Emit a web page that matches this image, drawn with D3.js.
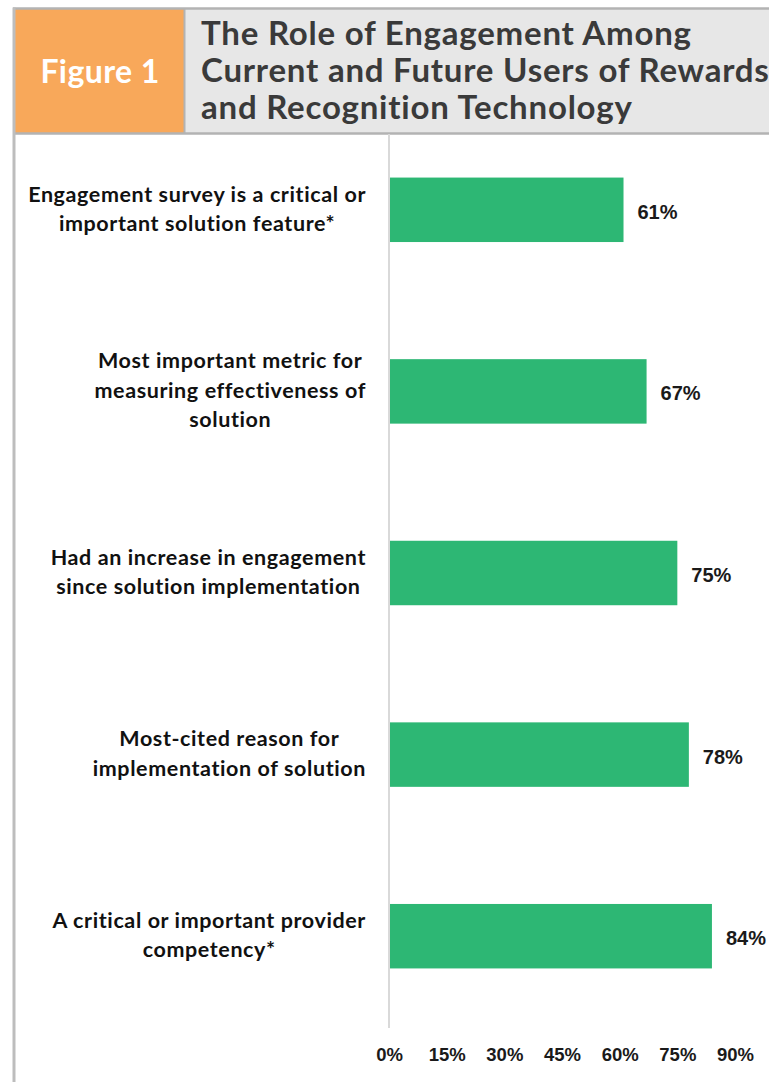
<!DOCTYPE html>
<html>
<head>
<meta charset="utf-8">
<script src="https://cdn.jsdelivr.net/npm/d3@7"></script>
<style>
  html, body { margin: 0; padding: 0; background: #ffffff; }
  svg { display: block; }
</style>
</head>
<body>
<div id="chart"></div>
<script>
// Share of respondents for each engagement-related finding
const categories = [
  "Engagement survey is a critical or\nimportant solution feature*",
  "Most important metric for\nmeasuring effectiveness of\nsolution",
  "Had an increase in engagement\nsince solution implementation",
  "Most-cited reason for\nimplementation of solution",
  "A critical or important provider\ncompetency*"
];
const values = [61, 67, 75, 78, 84];
const tickValues = [0, 15, 30, 45, 60, 75, 90];
const figureLabel = "Figure 1";
const titleLines = [
  "The Role of Engagement Among",
  "Current and Future Users of Rewards",
  "and Recognition Technology"
];

const W = 769, H = 1082;
const svg = d3.select("#chart").append("svg")
  .attr("width", W).attr("height", H);

// ---- header panel ----
const hdr = { x0: 14, y0: 9, y1: 133, split: 184 };
svg.append("rect")
  .attr("x", hdr.x0).attr("y", hdr.y0)
  .attr("width", W - hdr.x0 + 2).attr("height", hdr.y1 - hdr.y0)
  .attr("fill", "#e7e7e7");
svg.append("rect")
  .attr("x", hdr.x0).attr("y", hdr.y0)
  .attr("width", hdr.split - hdr.x0).attr("height", hdr.y1 - hdr.y0)
  .attr("fill", "#f8a85a");
// frame lines
svg.append("line").attr("x1", hdr.x0 - 1).attr("x2", W).attr("y1", hdr.y0 - 0.5).attr("y2", hdr.y0 - 0.5)
  .attr("stroke", "#b3b3b3").attr("stroke-width", 2.5);
svg.append("line").attr("x1", hdr.x0 - 1).attr("x2", W).attr("y1", hdr.y1 + 0.5).attr("y2", hdr.y1 + 0.5)
  .attr("stroke", "#b3b3b3").attr("stroke-width", 2.5);
svg.append("line").attr("x1", hdr.split + 0.5).attr("x2", hdr.split + 0.5).attr("y1", hdr.y0).attr("y2", hdr.y1)
  .attr("stroke", "#b3b3b3").attr("stroke-width", 2);
svg.append("line").attr("x1", hdr.x0).attr("x2", hdr.x0).attr("y1", hdr.y0 - 1.5).attr("y2", H)
  .attr("stroke", "#bdbdbd").attr("stroke-width", 3);

svg.append("text")
  .attr("x", (hdr.x0 + hdr.split) / 2 + 1).attr("y", 83)
  .attr("text-anchor", "middle")
  .attr("font-family", "Lato, 'Open Sans', sans-serif")
  .attr("font-weight", 700).attr("font-size", 32)
  .attr("letter-spacing", 0.4)
  .attr("fill", "#ffffff")
  .text(figureLabel);

svg.append("g").selectAll("text").data(titleLines).join("text")
  .attr("x", 201).attr("y", (d, i) => 45 + i * 37)
  .attr("font-family", "Lato, 'Open Sans', sans-serif")
  .attr("font-weight", 700).attr("font-size", 33)
  .attr("letter-spacing", 0.78)
  .attr("fill", "#3a3a3a")
  .text(d => d);

// ---- chart scales ----
const x = d3.scaleLinear().domain([0, 90]).range([389, 735]);
const y = d3.scaleBand().domain(categories).range([119, 1027])
  .paddingInner(0.645).paddingOuter(0.3225);

// vertical baseline
svg.append("line")
  .attr("x1", x(0)).attr("x2", x(0))
  .attr("y1", hdr.y1 + 1).attr("y2", 1028)
  .attr("stroke", "#d9d9d9").attr("stroke-width", 2);

// bars
svg.append("g").selectAll("rect").data(values).join("rect")
  .attr("x", x(0) + 1)
  .attr("y", (d, i) => y(categories[i]))
  .attr("width", d => x(d) - x(0) - 1)
  .attr("height", y.bandwidth())
  .attr("fill", "#2db774");

// value labels
svg.append("g").selectAll("text").data(values).join("text")
  .attr("x", d => x(d) + 14)
  .attr("y", (d, i) => y(categories[i]) + y.bandwidth() / 2 + 2)
  .attr("dy", "0.35em")
  .attr("font-family", "'Liberation Sans', Arial, sans-serif")
  .attr("font-weight", 700).attr("font-size", 20)
  .attr("fill", "#1a1a1a")
  .text(d => d + "%");

// category labels: each block right-aligned, lines centred within the block
const labelRight = 366, lineH = 29.5;
const lg = svg.append("g")
  .attr("font-family", "Lato, 'Open Sans', sans-serif")
  .attr("font-weight", 700).attr("font-size", 21.5)
  .attr("letter-spacing", 0.6)
  .attr("fill", "#111111");
categories.forEach((c, i) => {
  const lines = c.split("\n");
  const g = lg.append("g");
  const texts = g.selectAll("text").data(lines).join("text")
    .attr("text-anchor", "middle")
    .attr("dy", "0.35em")
    .attr("y", (d, j) => y(c) + y.bandwidth() / 2 - 1 + (j - (lines.length - 1) / 2) * lineH)
    .text(d => d);
  let maxW = 0;
  texts.each(function () { maxW = Math.max(maxW, this.getComputedTextLength()); });
  texts.attr("x", labelRight - maxW / 2);
});

// x axis tick labels
const axis = d3.axisBottom(x).tickValues(tickValues).tickSize(0).tickPadding(0)
  .tickFormat(d => d + "%");
const ax = svg.append("g").attr("transform", "translate(0,1048)").call(axis);
ax.select(".domain").remove();
ax.selectAll("text")
  .attr("font-family", "'Liberation Sans', Arial, sans-serif")
  .attr("font-weight", 700).attr("font-size", 18.5)
  .attr("fill", "#1a1a1a");
</script>
</body>
</html>
